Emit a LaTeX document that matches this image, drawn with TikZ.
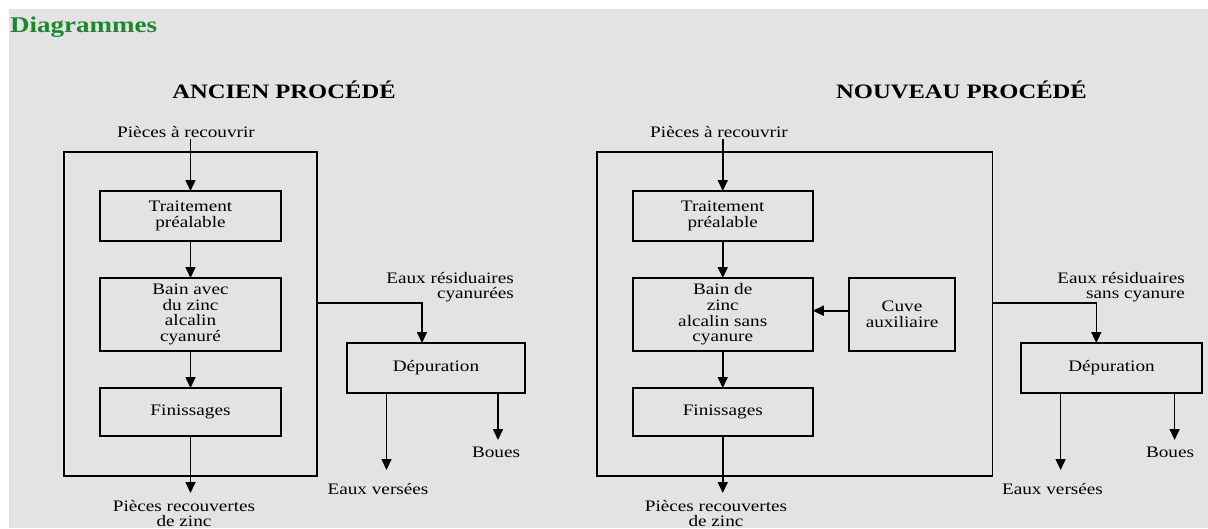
\documentclass[tikz,border=0pt]{standalone}
\usepackage{fontspec}
\setmainfont{Liberation Serif}[FakeStretch=1.2]
\usepackage{tikz}
\usetikzlibrary{arrows.meta,calc,positioning}
\definecolor{pagegray}{HTML}{E3E3E3}
\definecolor{headgreen}{HTML}{1B8A2C}

\begin{document}
\begin{tikzpicture}[x=1pt,y=-1pt,
 font=\fontsize{16}{15.6}\selectfont,
 procbox/.style={draw,line width=1.6pt,align=center,inner sep=0pt,outer sep=0pt},
 frame/.style={draw,line width=1.6pt,inner sep=0pt,outer sep=0pt},
 flow/.style={-{Triangle[width=10pt,length=11pt]},line width=1.6pt},
 lbl/.style={inner sep=0pt,align=center},
 title/.style={inner sep=0pt,anchor=base,font=\fontsize{20.5}{24}\selectfont\bfseries}]
\useasboundingbox (0,0) rectangle (1208,528);
\fill[pagegray] (9,9) rectangle (1208,528);
\node[inner sep=0pt,anchor=base west,text=headgreen,font=\fontsize{22.5}{26}\selectfont\bfseries] (head) at (10,32) {Diagrammes};
% old process
\begin{scope}
 \node[title] (oldtitle) at (284,98) {ANCIEN PROCÉDÉ};
 \node[frame,minimum width=253pt,minimum height=324pt] (oldbox) at (190.5,314) {};
 \node[procbox,minimum width=181pt,minimum height=50pt] (oldpre) at (190.5,216) {Traitement\\préalable};
 \node[procbox,minimum width=181pt,minimum height=73pt] (oldbath) at (190.5,314.5) {Bain avec\\du zinc\\alcalin\\cyanuré};
 \node[procbox,minimum width=181pt,minimum height=48pt] (oldfin) at (190.5,412) {Finissages};
 \node[procbox,minimum width=178pt,minimum height=50pt] (olddep) at (436,368) {Dépuration};
 \node[lbl,anchor=base] (oldin) at (186,137) {Pièces à recouvrir};
 \node[lbl,anchor=north] (oldout) at (184,500) {Pièces recouvertes\\de zinc};
 \node[lbl,anchor=north east,align=right] (oldwaste) at (514,272) {Eaux résiduaires\\cyanurées};
 \node[lbl,anchor=base] (oldwater) at (378,494) {Eaux versées};
 \node[lbl,anchor=base] (oldmud) at (496,457) {Boues};
 \coordinate (oldturn) at (422,303);
 \coordinate (oldoutend) at (190.5,493);
 \coordinate (oldwaterend) at (386.5,470);
 \coordinate (oldmudend) at (498,440);
 \draw[flow] (oldpre.north |- oldin.south) ++(0,2) -- (oldpre.north);
 \draw[flow] (oldpre) -- (oldbath);
 \draw[flow] (oldbath) -- (oldfin);
 \draw[flow] (oldfin) -- (oldoutend);
 \draw[flow] (oldbox.east |- oldturn) -| (oldturn |- olddep.north);
 \draw[flow] (oldwaterend |- olddep.south) -- (oldwaterend);
 \draw[flow] (oldmudend |- olddep.south) -- (oldmudend);
\end{scope}
% new process
\begin{scope}
 \node[title] (newtitle) at (961.5,98) {NOUVEAU PROCÉDÉ};
 \node[frame,minimum width=395.5pt,minimum height=324pt] (newbox) at (794.7,314) {};
 \node[procbox,minimum width=180pt,minimum height=50pt] (newpre) at (722.75,216) {Traitement\\préalable};
 \node[procbox,minimum width=180pt,minimum height=73pt] (newbath) at (722.75,314.5) {Bain de\\zinc\\alcalin sans\\cyanure};
 \node[procbox,minimum width=105.5pt,minimum height=73pt] (newaux) at (902,314.5) {Cuve\\auxiliaire};
 \node[procbox,minimum width=180pt,minimum height=48pt] (newfin) at (722.75,412) {Finissages};
 \node[procbox,minimum width=181.5pt,minimum height=50pt] (newdep) at (1111.5,368) {Dépuration};
 \node[lbl,anchor=base] (newin) at (719,137) {Pièces à recouvrir};
 \node[lbl,anchor=north] (newout) at (716,500) {Pièces recouvertes\\de zinc};
 \node[lbl,anchor=north east,align=right] (newwaste) at (1185,272) {Eaux résiduaires\\sans cyanure};
 \node[lbl,anchor=base] (newwater) at (1052.5,494) {Eaux versées};
 \node[lbl,anchor=base] (newmud) at (1170,457) {Boues};
 \coordinate (newturn) at (1096.3,303);
 \coordinate (newoutend) at (722.75,493);
 \coordinate (newwaterend) at (1060.6,470);
 \coordinate (newmudend) at (1174.6,440);
 \draw[flow] (newpre.north |- newin.south) ++(0,2) -- (newpre.north);
 \draw[flow] (newpre) -- (newbath);
 \draw[flow] (newbath) -- (newfin);
 \draw[flow] (newaux.west |- 0,310.7) -- (newbath.east |- 0,310.7);
 \draw[flow] (newfin) -- (newoutend);
 \draw[flow] (newbox.east |- newturn) -| (newturn |- newdep.north);
 \draw[flow] (newwaterend |- newdep.south) -- (newwaterend);
 \draw[flow] (newmudend |- newdep.south) -- (newmudend);
\end{scope}
\end{tikzpicture}
\end{document}
